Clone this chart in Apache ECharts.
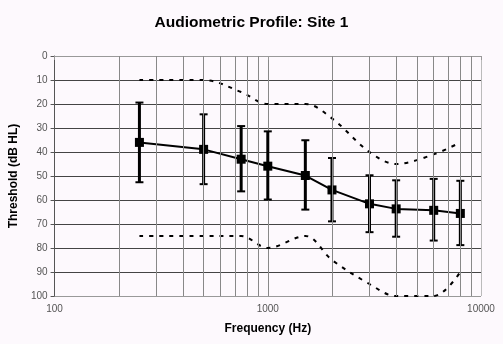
<!DOCTYPE html>
<html><head><meta charset="utf-8">
<script src="https://cdn.jsdelivr.net/npm/echarts@6/dist/echarts.min.js"></script>
<style>html,body{margin:0;padding:0;background:#fdf9fd}#c{width:503px;height:344px}</style>
</head><body><div id="c"></div>
<script>
const freqs = [250, 500, 750, 1000, 1500, 2000, 3000, 4000, 6000, 8000];
const meanThr = [36, 38.9, 43, 45.9, 49.8, 55.8, 61.6, 63.7, 64.3, 65.6];
const errLow = [19.4, 24.3, 29.2, 31.4, 35.1, 42.5, 49.7, 51.8, 51.2, 52];
const errHigh = [52.6, 53.4, 56.4, 59.8, 64, 68.9, 73.4, 75.3, 76.9, 78.8];
const upperBound = [10, 10, 15, 20, 20, 26, 40, 45, 41, 36];
const lowerBound = [75, 75, 75, 80, 75, 85, 95, 100, 100, 90];
const minorGrid = [200, 300, 400, 500, 600, 700, 800, 900, 2000, 3000, 4000, 5000, 6000, 7000, 8000, 9000];

const chart = echarts.init(document.getElementById('c'), null, {renderer: 'canvas'});
const font = 'Liberation Sans, Arial, sans-serif';
chart.setOption({
  backgroundColor: '#fdf9fd',
  animation: false,
  title: {
    text: 'Audiometric Profile: Site 1', left: 'center', top: 10,
    textStyle: {fontFamily: font, fontSize: 15.5, fontWeight: 'bold', color: '#000'}
  },
  grid: {left: 51, top: 56, right: 22, bottom: 48},
  xAxis: {
    type: 'log', logBase: 10, min: 100, max: 10000,
    name: 'Frequency (Hz)', nameLocation: 'middle', nameGap: 27,
    nameTextStyle: {fontFamily: font, fontSize: 12, fontWeight: 'bold', color: '#000'},
    axisLine: {lineStyle: {color: '#999', width: 1}},
    axisTick: {show: true, length: 4, lineStyle: {color: '#999'}},
    axisLabel: {fontFamily: font, fontSize: 10, color: '#555', margin: 8, formatter: v => String(Math.round(v))},
    splitLine: {show: true, lineStyle: {color: ['#555', '#888', '#bbb'], width: 1}},
    minorTick: {show: false}
  },
  yAxis: {
    type: 'value', inverse: true, min: 0, max: 100, interval: 10,
    name: 'Threshold (dB HL)', nameLocation: 'middle', nameGap: 29,
    nameTextStyle: {fontFamily: font, fontSize: 12, fontWeight: 'bold', color: '#000'},
    axisLine: {show: true, lineStyle: {color: '#555', width: 1}},
    axisTick: {show: true, length: 4, lineStyle: {color: '#555'}},
    axisLabel: {fontFamily: font, fontSize: 10, color: '#555', margin: 7},
    splitLine: {show: true, lineStyle: {color: ['#bbb', '#444', '#444', '#444', '#444', '#444', '#444', '#444', '#444', '#444', '#999'], width: 1}}
  },
  series: [
    {
      type: 'line', data: [], silent: true,
      markLine: {
        silent: true, symbol: 'none', animation: false,
        label: {show: false},
        lineStyle: {color: '#888', width: 1, type: 'solid'},
        data: minorGrid.map(v => ({xAxis: v}))
      }
    },
    {
      type: 'line', smooth: 0.35, showSymbol: false,
      data: freqs.map((f, i) => [f, upperBound[i]]),
      lineStyle: {color: '#000', width: 2, type: [4, 6]}
    },
    {
      type: 'line', smooth: 0.35, showSymbol: false,
      data: freqs.map((f, i) => [f, lowerBound[i]]),
      lineStyle: {color: '#000', width: 2, type: [4, 6]}
    },
    {
      type: 'custom',
      data: freqs.map((f, i) => [f, errLow[i], errHigh[i]]),
      renderItem: function (params, api) {
        const x = api.value(0);
        const p1 = api.coord([x, api.value(1)]);
        const p2 = api.coord([x, api.value(2)]);
        const hw = 4;
        const st = {stroke: '#000', lineWidth: 2};
        return {type: 'group', children: [
          {type: 'line', shape: {x1: p1[0], y1: p1[1], x2: p2[0], y2: p2[1]}, style: {stroke: '#000', lineWidth: 3}},
          {type: 'line', shape: {x1: p1[0] - hw, y1: p1[1], x2: p1[0] + hw, y2: p1[1]}, style: st},
          {type: 'line', shape: {x1: p2[0] - hw, y1: p2[1], x2: p2[0] + hw, y2: p2[1]}, style: st}
        ]};
      },
      z: 3
    },
    {
      type: 'line',
      data: freqs.map((f, i) => [f, meanThr[i]]),
      symbol: 'rect', symbolSize: 9,
      itemStyle: {color: '#000'},
      lineStyle: {color: '#000', width: 2},
      z: 4
    }
  ]
});
</script></body></html>
